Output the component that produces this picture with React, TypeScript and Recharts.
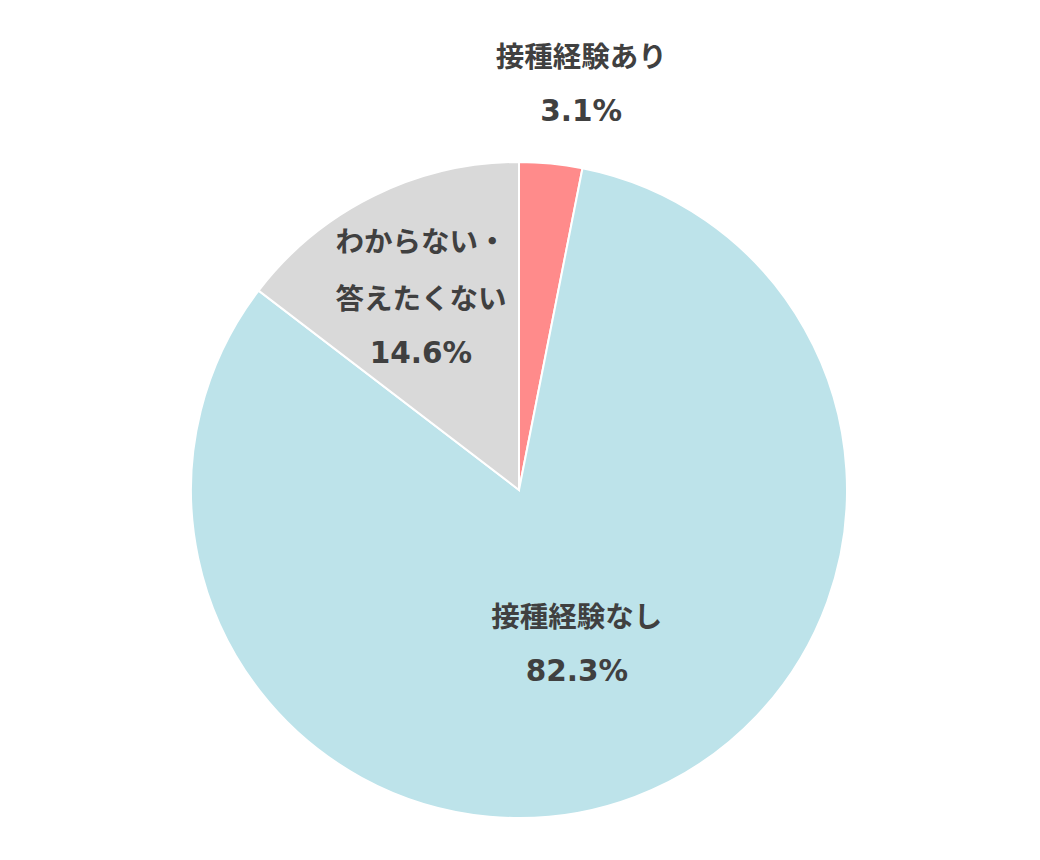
import React from "react";
import { PieChart, Pie, Cell } from "recharts";

const categories = ["接種経験あり", "接種経験なし", "わからない・答えたくない"];
const values = [3.1, 82.3, 14.6];
const labelLines = [["接種経験あり"], ["接種経験なし"], ["わからない・", "答えたくない"]];

const colors = ["#FF8B8B", "#BDE3EA", "#D9D9D9"];
// label placement (radius in px from the centre, angle tweak in degrees)
const labelRadius = [412, 163, 217];
const labelAngleShift = [-3.1, 0.1, 0.6];

const data = categories.map((name, i) => ({ name, value: values[i] }));

const RAD = Math.PI / 180;
const LINE_H = 57;

const renderLabel = (props: any) => {
  const { cx, cy, midAngle, index } = props;
  const a = (midAngle + labelAngleShift[index]) * RAD;
  const r = labelRadius[index];
  const x = cx + r * Math.cos(a);
  const y = cy - r * Math.sin(a);
  const lines = [...labelLines[index]];
  const pct = `${values[index].toFixed(1)}%`;
  const total = lines.length + 1;
  const startY = y - ((total - 1) * LINE_H) / 2;
  return (
    <text
      x={x}
      y={startY}
      textAnchor="middle"
      dominantBaseline="central"
      fill="#404040"
      fontSize={28.5}
      fontWeight="bold"
      fontFamily="'Noto Sans CJK JP', 'Noto Sans', sans-serif"
    >
      {lines.map((t, k) => (
        <tspan key={k} x={x} y={startY + k * LINE_H}>
          {t}
        </tspan>
      ))}
      <tspan
        x={x}
        y={startY + lines.length * LINE_H}
        fontFamily="'DejaVu Sans', sans-serif"
        fontSize={29.5}
      >
        {pct}
      </tspan>
    </text>
  );
};

export default function App() {
  return (
    <div style={{ position: "absolute", left: 0, top: 0, width: 1040, height: 860, background: "#fff" }}>
      <PieChart width={1040} height={860} margin={{ top: 0, right: 0, bottom: 0, left: 0 }}>
        <Pie
          data={data}
          dataKey="value"
          nameKey="name"
          cx={519}
          cy={490}
          outerRadius={328}
          startAngle={90}
          endAngle={-270}
          stroke="#ffffff"
          strokeWidth={2}
          label={renderLabel}
          labelLine={false}
          isAnimationActive={false}
        >
          {data.map((d, i) => (
            <Cell key={d.name} fill={colors[i]} />
          ))}
        </Pie>
      </PieChart>
    </div>
  );
}
